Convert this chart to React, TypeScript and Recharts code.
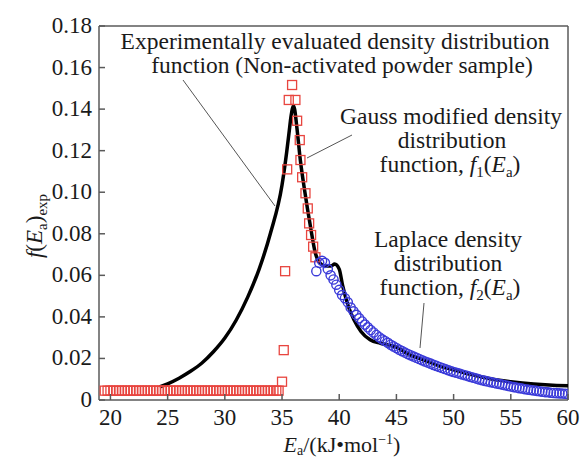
import React from "react";
import { ComposedChart, Line, Scatter, XAxis, YAxis, ReferenceLine } from "recharts";

const FONT = "'Liberation Serif', 'Times New Roman', serif";
const AXIS = "#5a5a5a";
const RED = "#e8453f";
const BLUE = "#3b3bd9";

// axis ticks
const xTicks = [20, 25, 30, 35, 40, 45, 50, 55, 60];
const yTicks = [0, 0.02, 0.04, 0.06, 0.08, 0.1, 0.12, 0.14, 0.16, 0.18];

// experimental curve (black line)
const expX = [24.3, 25, 26, 27, 28, 29, 30, 31, 32, 33, 34, 35, 35.4, 35.6, 35.8, 36.0, 36.1, 36.3, 36.6, 37.0, 37.5, 37.9, 38.3, 38.8, 39.3, 39.6, 40.0, 40.3, 40.8, 41.3, 41.9, 42.7, 43.6, 44.5, 45, 46, 47, 48, 49, 50, 51, 52, 53, 54, 55, 56, 57, 58, 59, 60];
const expY = [0.0063, 0.0078, 0.0105, 0.0138, 0.0178, 0.0232, 0.0298, 0.0385, 0.0495, 0.063, 0.0805, 0.1035, 0.119, 0.128, 0.137, 0.1415, 0.14, 0.131, 0.1155, 0.1, 0.083, 0.071, 0.066, 0.0645, 0.0645, 0.0655, 0.063, 0.055, 0.045, 0.0385, 0.033, 0.029, 0.0273, 0.0262, 0.0255, 0.0222, 0.02, 0.018, 0.016, 0.0145, 0.013, 0.0117, 0.0105, 0.0095, 0.0088, 0.0082, 0.0077, 0.0073, 0.007, 0.0068];

// Gauss modified density, f1 (red squares)
const gaussX = [19.5, 19.75, 20, 20.25, 20.5, 20.75, 21, 21.25, 21.5, 21.75, 22, 22.25, 22.5, 22.75, 23, 23.25, 23.5, 23.75, 24, 24.25, 24.5, 24.75, 25, 25.25, 25.5, 25.75, 26, 26.25, 26.5, 26.75, 27, 27.25, 27.5, 27.75, 28, 28.25, 28.5, 28.75, 29, 29.25, 29.5, 29.75, 30, 30.25, 30.5, 30.75, 31, 31.25, 31.5, 31.75, 32, 32.25, 32.5, 32.75, 33, 33.25, 33.5, 33.75, 34, 34.25, 34.5, 34.7, 35.0, 35.15, 35.27, 35.45, 35.59, 35.88, 36.17, 36.32, 36.55, 36.61, 36.76, 37.05, 37.25, 37.37, 37.54, 37.72, 37.92];
const gaussY = [0.0045, 0.0045, 0.0045, 0.0045, 0.0045, 0.0045, 0.0045, 0.0045, 0.0045, 0.0045, 0.0045, 0.0045, 0.0045, 0.0045, 0.0045, 0.0045, 0.0045, 0.0045, 0.0045, 0.0045, 0.0045, 0.0045, 0.0045, 0.0045, 0.0045, 0.0045, 0.0045, 0.0045, 0.0045, 0.0045, 0.0045, 0.0045, 0.0045, 0.0045, 0.0045, 0.0045, 0.0045, 0.0045, 0.0045, 0.0045, 0.0045, 0.0045, 0.0045, 0.0045, 0.0045, 0.0045, 0.0045, 0.0045, 0.0045, 0.0045, 0.0045, 0.0045, 0.0045, 0.0045, 0.0045, 0.0045, 0.0045, 0.0045, 0.0045, 0.0045, 0.0045, 0.0045, 0.0088, 0.024, 0.062, 0.111, 0.1444, 0.1516, 0.1444, 0.1344, 0.1251, 0.1155, 0.1072, 0.0995, 0.0922, 0.085, 0.0794, 0.0738, 0.0687];

// Laplace density, f2 (blue circles)
const laplaceX = [38, 38.25, 38.5, 38.75, 39, 39.25, 39.5, 39.75, 40, 40.25, 40.5, 40.75, 41, 41.25, 41.5, 41.75, 42, 42.25, 42.5, 42.75, 43, 43.25, 43.5, 43.75, 44, 44.25, 44.5, 44.75, 45, 45.25, 45.5, 45.75, 46, 46.25, 46.5, 46.75, 47, 47.25, 47.5, 47.75, 48, 48.25, 48.5, 48.75, 49, 49.25, 49.5, 49.75, 50, 50.25, 50.5, 50.75, 51, 51.25, 51.5, 51.75, 52, 52.25, 52.5, 52.75, 53, 53.25, 53.5, 53.75, 54, 54.25, 54.5, 54.75, 55, 55.25, 55.5, 55.75, 56, 56.25, 56.5, 56.75, 57, 57.25, 57.5, 57.75, 58, 58.25, 58.5, 58.75, 59, 59.25, 59.5, 59.75, 60];
const laplaceY = [0.062, 0.066, 0.067, 0.066, 0.063, 0.06, 0.058, 0.0555, 0.053, 0.0505, 0.049, 0.047, 0.0445, 0.0427, 0.041, 0.0393, 0.0378, 0.0363, 0.035, 0.0337, 0.0325, 0.0313, 0.0302, 0.0292, 0.0284, 0.0275, 0.0266, 0.0258, 0.025, 0.0242, 0.0235, 0.0228, 0.0221, 0.0215, 0.0209, 0.0203, 0.0197, 0.0191, 0.0185, 0.018, 0.0175, 0.0169, 0.0164, 0.0159, 0.0154, 0.0149, 0.0144, 0.0139, 0.0135, 0.0131, 0.0127, 0.0123, 0.0119, 0.0115, 0.0111, 0.0107, 0.0103, 0.0099, 0.0095, 0.0092, 0.0089, 0.0086, 0.0083, 0.008, 0.0077, 0.0074, 0.0071, 0.0068, 0.0065, 0.0062, 0.006, 0.0057, 0.0055, 0.0052, 0.005, 0.0048, 0.0046, 0.0044, 0.0042, 0.004, 0.0038, 0.0037, 0.0035, 0.0034, 0.0033, 0.0032, 0.0031, 0.003, 0.0029];

const toPoints = (xs: number[], ys: number[]) => xs.map((x, i) => ({ x, y: ys[i] }));

function XTick(props: any) {
  const { x, y, payload } = props;
  return (
    <g>
      <line x1={x} y1={y} x2={x} y2={y - 6} stroke={AXIS} strokeWidth={1.5} />
      <text x={x} y={y + 25} textAnchor="middle" fontSize={23} fontFamily={FONT} fill="#1a1a1a">
        {payload.value}
      </text>
    </g>
  );
}

function YTick(props: any) {
  const { x, y, payload } = props;
  const label = payload.value === 0 ? "0" : payload.value.toFixed(2);
  return (
    <g>
      <line x1={x} y1={y} x2={x + 6} y2={y} stroke={AXIS} strokeWidth={1.5} />
      <text x={x - 7} y={y + 7} textAnchor="end" fontSize={23} fontFamily={FONT} fill="#1a1a1a">
        {label}
      </text>
    </g>
  );
}

const Square = (p: any) => (
  <rect x={p.cx - 4.5} y={p.cy - 4.5} width={9} height={9} fill="none" stroke={RED} strokeWidth={1.3} />
);
const Ring = (p: any) => <circle cx={p.cx} cy={p.cy} r={4.6} fill="none" stroke={BLUE} strokeWidth={1.4} />;

function Notes() {
  const t = { fontFamily: FONT, fontSize: 23.5, fill: "#1a1a1a", textAnchor: "middle" as const };
  return (
    <svg width={584} height={459} style={{ position: "absolute", left: 0, top: 0, pointerEvents: "none" }}>
      <text {...t} x={335} y={49}>Experimentally evaluated density distribution</text>
      <text {...t} x={342} y={73}>function (Non-activated powder sample)</text>
      <line x1={183} y1={80} x2={275} y2={206} stroke="#555" strokeWidth={1} />

      <text {...t} x={451} y={124}>Gauss modified density</text>
      <text {...t} x={452} y={148}>distribution</text>
      <text {...t} x={450} y={172}>
        function, <tspan fontStyle="italic">f</tspan>
        <tspan dy={5} fontSize={15}>1</tspan>
        <tspan dy={-5}>(</tspan>
        <tspan fontStyle="italic">E</tspan>
        <tspan dy={5} fontSize={15}>a</tspan>
        <tspan dy={-5}>)</tspan>
      </text>
      <line x1={352} y1={135} x2={307} y2={158} stroke="#555" strokeWidth={1} />

      <text {...t} x={448} y={247}>Laplace density</text>
      <text {...t} x={448} y={271}>distribution</text>
      <text {...t} x={450} y={295}>
        function, <tspan fontStyle="italic">f</tspan>
        <tspan dy={5} fontSize={15}>2</tspan>
        <tspan dy={-5}>(</tspan>
        <tspan fontStyle="italic">E</tspan>
        <tspan dy={5} fontSize={15}>a</tspan>
        <tspan dy={-5}>)</tspan>
      </text>
      <line x1={424} y1={303} x2={420} y2={348} stroke="#555" strokeWidth={1} />

      <text {...t} fontSize={22} x={342} y={452}>
        <tspan fontStyle="italic">E</tspan>
        <tspan dy={3} fontSize={14}>a</tspan>
        <tspan dy={-3}>/(kJ•mol</tspan>
        <tspan dy={-8} fontSize={14}>−1</tspan>
        <tspan dy={8}>)</tspan>
      </text>

      <text {...t} fontSize={23} transform="translate(42 226) rotate(-90)" x={0} y={0}>
        <tspan fontStyle="italic">f</tspan>
        <tspan>(</tspan>
        <tspan fontStyle="italic">E</tspan>
        <tspan dy={5} fontSize={15}>a</tspan>
        <tspan dy={-5}>)</tspan>
        <tspan dy={5} fontSize={15}>exp</tspan>
      </text>
    </svg>
  );
}

export default function App() {
  return (
    <div style={{ position: "absolute", left: 0, top: 0, width: 584, height: 459, background: "#fff" }}>
      <ComposedChart width={584} height={459} margin={{ top: 26, right: 16, bottom: 0, left: 0 }}>
        <XAxis
          type="number"
          dataKey="x"
          domain={[19, 60]}
          ticks={xTicks}
          allowDataOverflow
          height={59}
          tickSize={0}
          tickMargin={0}
          tickLine={false}
          tick={<XTick />}
          stroke={AXIS}
          strokeWidth={1.5}
        />
        <YAxis
          type="number"
          dataKey="y"
          domain={[0, 0.18]}
          ticks={yTicks}
          allowDataOverflow
          width={99}
          tickSize={0}
          tickMargin={0}
          tickLine={false}
          tick={<YTick />}
          stroke={AXIS}
          strokeWidth={1.5}
        />
        <ReferenceLine y={0.18} stroke={AXIS} strokeWidth={1.5} />
        <ReferenceLine x={60} stroke={AXIS} strokeWidth={1.5} />
        <Line
          data={toPoints(expX, expY)}
          dataKey="y"
          type="monotone"
          stroke="#000"
          strokeWidth={3.5}
          dot={false}
          isAnimationActive={false}
        />
        <Scatter data={toPoints(gaussX, gaussY)} dataKey="y" shape={Square} isAnimationActive={false} />
        <Scatter data={toPoints(laplaceX, laplaceY)} dataKey="y" shape={Ring} isAnimationActive={false} />
      </ComposedChart>
      <Notes />
    </div>
  );
}
